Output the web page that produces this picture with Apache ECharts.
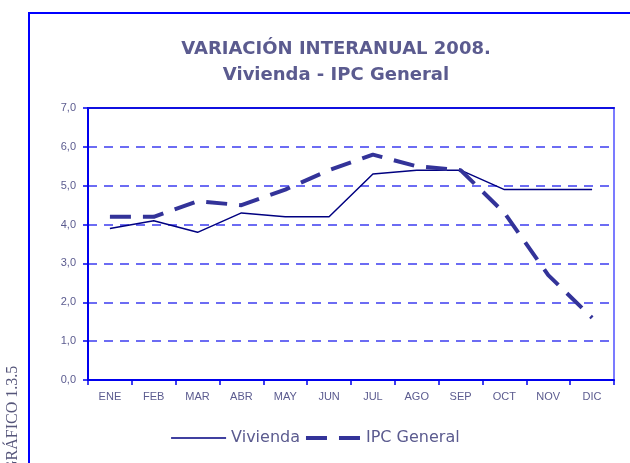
<!DOCTYPE html>
<html>
<head>
<meta charset="utf-8">
<script src="https://cdn.jsdelivr.net/npm/echarts@6/dist/echarts.min.js"></script>
<style>
  html, body { margin: 0; padding: 0; background: #fff; }
  #main { width: 630px; height: 463px; }
</style>
</head>
<body>
<div id="main"></div>
<script>
var meses = ['ENE', 'FEB', 'MAR', 'ABR', 'MAY', 'JUN', 'JUL', 'AGO', 'SEP', 'OCT', 'NOV', 'DIC'];
var vivienda = [3.9, 4.1, 3.8, 4.3, 4.2, 4.2, 5.3, 5.4, 5.4, 4.9, 4.9, 4.9];
var ipcGeneral = [4.2, 4.2, 4.6, 4.5, 4.9, 5.4, 5.8, 5.5, 5.4, 4.3, 2.7, 1.6];

var textColor = '#5b5b8f';
var myChart = echarts.init(document.getElementById('main'));
var option = {
    backgroundColor: '#fff',
    animation: false,
    title: {
        text: 'VARIACIÓN INTERANUAL 2008.\nVivienda - IPC General',
        left: 331,
        textAlign: 'center',
        top: 31,
        textStyle: {
            color: textColor,
            fontFamily: 'DejaVu Sans',
            fontWeight: 'bold',
            fontSize: 18,
            lineHeight: 26
        }
    },
    legend: {
        bottom: 12,
        left: 'center',
        itemWidth: 55,
        itemHeight: 10,
        itemGap: 4,
        itemStyle: { opacity: 0 },
        textStyle: {
            color: textColor,
            fontFamily: 'DejaVu Sans',
            fontSize: 16
        },
        data: [
            { name: 'Vivienda', lineStyle: { width: 1.5, type: 'solid' } },
            { name: 'IPC General', lineStyle: { width: 4, type: [21, 12] } }
        ]
    },
    grid: {
        left: 88,
        right: 16,
        top: 108,
        bottom: 83,
        show: true,
        borderColor: '#7b7bff',
        borderWidth: 2
    },
    xAxis: [
        {
            type: 'category',
            data: meses,
            axisLine: { lineStyle: { color: '#0000ee', width: 2 } },
            axisTick: { show: true, length: 5, lineStyle: { color: '#0000ee', width: 1.5 } },
            axisLabel: {
                color: textColor,
                fontFamily: 'Liberation Sans',
                fontSize: 11,
                margin: 11
            }
        },
        {
            type: 'category',
            data: meses,
            position: 'top',
            axisLine: { lineStyle: { color: '#1010e0', width: 2 } },
            axisTick: { show: false },
            axisLabel: { show: false }
        }
    ],
    yAxis: {
        type: 'value',
        min: 0,
        max: 7,
        interval: 1,
        axisLine: { show: true, lineStyle: { color: '#0000ee', width: 2 } },
        axisTick: { show: true, length: 5, lineStyle: { color: '#0000ee', width: 1.5 } },
        axisLabel: {
            color: textColor,
            fontFamily: 'Liberation Sans',
            fontSize: 11,
            margin: 12,
            formatter: function (v) { return v.toFixed(1).replace('.', ','); }
        },
        splitLine: {
            show: true,
            lineStyle: { color: '#3c3cf0', width: 1.5, type: [9, 7] }
        }
    },
    series: [
        {
            name: 'Vivienda',
            type: 'line',
            symbol: 'none',
            z: 3,
            lineStyle: { color: '#000080', width: 1.5 },
            itemStyle: { color: '#000080' },
            data: vivienda
        },
        {
            name: 'IPC General',
            type: 'line',
            symbol: 'none',
            z: 4,
            lineStyle: { color: '#333399', width: 4, type: [21, 12] },
            itemStyle: { color: '#333399' },
            data: ipcGeneral
        }
    ],
    graphic: [
        {
            type: 'rect',
            silent: true,
            shape: { x: 29, y: 13, width: 700, height: 500 },
            style: { fill: 'none', stroke: '#0000ff', lineWidth: 2 }
        },
        {
            type: 'text',
            x: 13,
            y: 472,
            rotation: Math.PI / 2,
            style: {
                text: 'GRÁFICO 1.3.5',
                fill: '#55557a',
                font: '16px "Liberation Serif"',
                align: 'left',
                verticalAlign: 'middle'
            }
        }
    ]
};
myChart.setOption(option);
</script>
</body>
</html>
